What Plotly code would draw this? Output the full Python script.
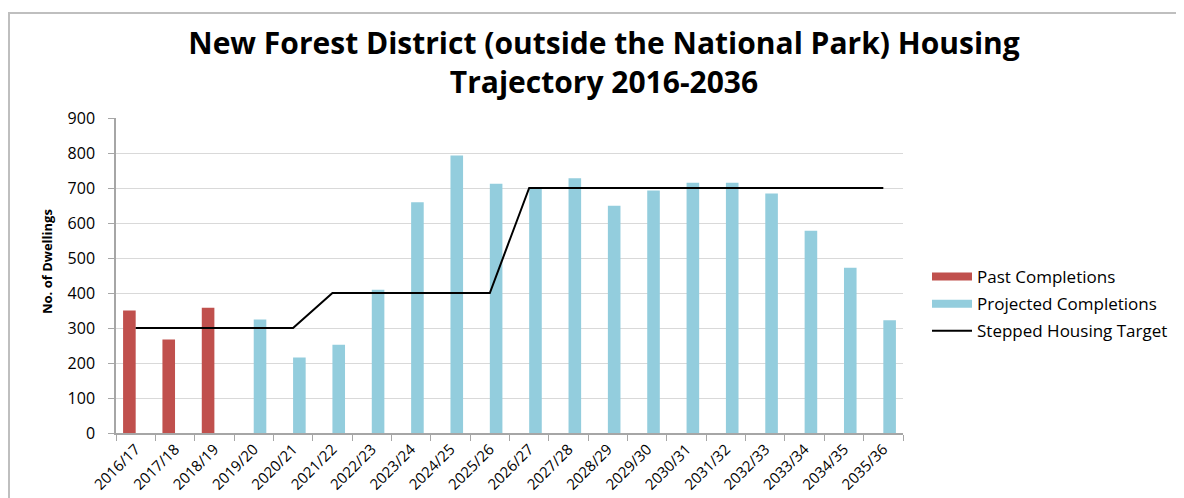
import plotly.graph_objects as go

years = ["2016/17", "2017/18", "2018/19", "2019/20", "2020/21", "2021/22", "2022/23",
         "2023/24", "2024/25", "2025/26", "2026/27", "2027/28", "2028/29", "2029/30",
         "2030/31", "2031/32", "2032/33", "2033/34", "2034/35", "2035/36"]
past = [350, 267, 358] + [None] * 17
projected = [None, None, None, 324, 216, 252, 409, 659, 793, 712, 700, 728, 649, 693,
             715, 715, 684, 578, 472, 322]
target = [300, 300, 300, 300, 300, 400, 400, 400, 400, 400, 700, 700, 700, 700,
          700, 700, 700, 700, 700, 700]

FONT = "Open Sans"
RED = "#C0504D"
BLUE = "#93CDDD"

fig = go.Figure()
fig.add_trace(go.Bar(x=years, y=past, name="Past Completions", marker_color=RED,
                     marker_line_width=0, showlegend=False))
fig.add_trace(go.Bar(x=years, y=projected, name="Projected Completions",
                     marker_color=BLUE, marker_line_width=0, showlegend=False))
fig.add_trace(go.Scatter(x=years, y=target, name="Stepped Housing Target", mode="lines",
                         line=dict(color="black", width=2), showlegend=False))
# legend entries (wide swatches like the original)
fig.add_trace(go.Scatter(x=[None], y=[None], mode="lines", name="Past Completions",
                         line=dict(color=RED, width=8), legendgroup="a"))
fig.add_trace(go.Scatter(x=[None], y=[None], mode="lines", name="Projected Completions",
                         line=dict(color=BLUE, width=8), legendgroup="b"))
fig.add_trace(go.Scatter(x=[None], y=[None], mode="lines", name="Stepped Housing Target",
                         line=dict(color="black", width=2), legendgroup="c"))

OFF = 8  # page body margin
W, H = 1176, 490
L, T = 116 - OFF, 118 - OFF
R = W - (903 - OFF)
B = H - (433 - OFF)
pw, ph = W - L - R, H - T - B


def px_x(sx):
    return (sx - OFF - L) / pw


def px_y(sy):
    return 1 - (sy - OFF - T) / ph


fig.update_layout(
    width=W, height=H,
    margin=dict(l=L, r=R, t=T, b=B, autoexpand=False),
    paper_bgcolor="white", plot_bgcolor="white",
    barmode="group", bargap=0.36, bargroupgap=0,
    font=dict(family=FONT, size=14, color="black"),
    title=dict(text="<b>New Forest District (outside the National Park) Housing<br>Trajectory 2016-2036</b>",
               x=(604 - OFF) / W, xanchor="center", y=1 - (54 - OFF) / H, yanchor="middle",
               font=dict(family=FONT, size=30, color="black")),
    legend=dict(x=px_x(927), y=px_y(259), xanchor="left", yanchor="top",
                font=dict(family=FONT, size=17), tracegroupgap=2, itemwidth=40,
                bgcolor="rgba(0,0,0,0)"),
    xaxis=dict(type="category", tickangle=-45, tickson="boundaries", ticks="outside",
               ticklen=6, tickcolor="#A6A6A6", showline=True, linecolor="#A6A6A6",
               linewidth=1.5, showgrid=False, tickfont=dict(size=15), automargin=False),
    yaxis=dict(range=[0, 900], dtick=100, ticks="outside", ticklen=6, tickcolor="#A6A6A6",
               showline=True, linecolor="#A6A6A6", linewidth=1.5, gridcolor="#D9D9D9",
               gridwidth=1, zeroline=False, tickfont=dict(size=16), automargin=False,
               ticklabelstandoff=10),
)

fig.add_annotation(text="<b>No. of Dwellings</b>", textangle=-90, xref="paper", yref="paper",
                   x=px_x(47), y=px_y(262), xanchor="center", yanchor="middle",
                   showarrow=False, font=dict(family=FONT, size=13, color="black"))

fig.add_shape(type="rect", xref="paper", yref="paper",
              x0=(1 - L) / pw, x1=(W + 20 - L) / pw,
              y0=px_y(520), y1=px_y(13),
              line=dict(color="#BFBFBF", width=2), fillcolor="rgba(0,0,0,0)", layer="below")

fig.write_html("out.html")
